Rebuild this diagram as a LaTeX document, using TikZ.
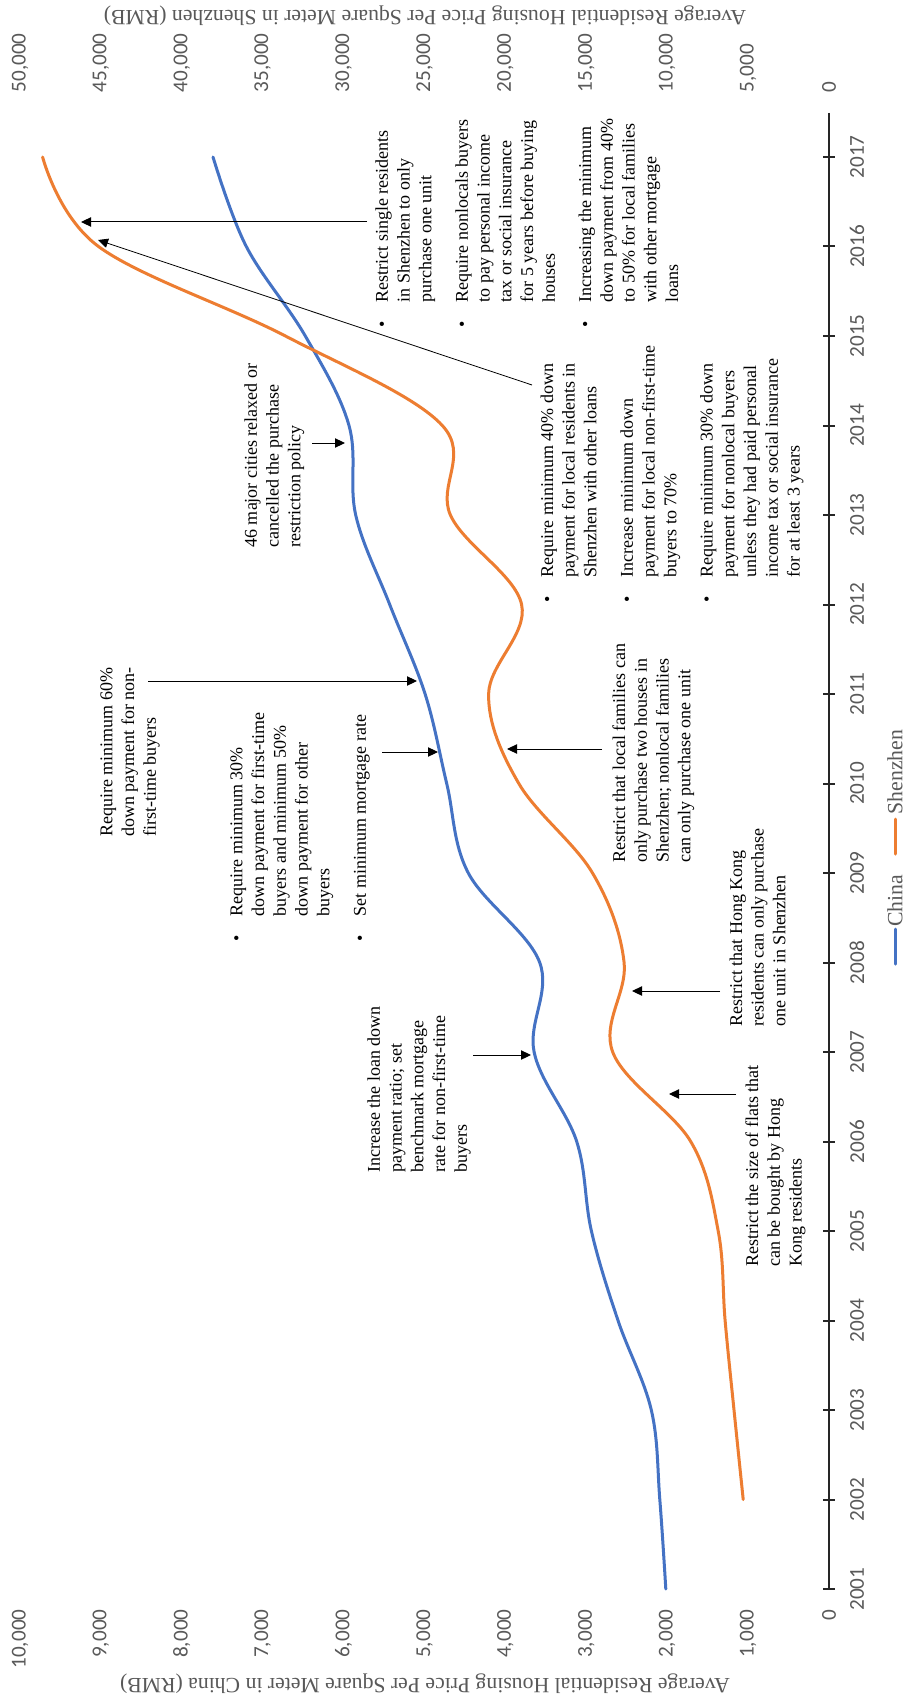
\documentclass[tikz,border=0pt]{standalone}
\usepackage{fontspec}
\setmainfont{Liberation Serif}
\newfontfamily\ticksfont{Carlito}
\usetikzlibrary{arrows.meta}

\definecolor{chinablue}{RGB}{68,114,196}
\definecolor{szorange}{RGB}{237,125,49}
\definecolor{lblgray}{RGB}{89,89,89}
\definecolor{axisdark}{RGB}{38,38,38}

\newcommand{\bul}{\makebox[19pt][l]{\textbullet}}
\newcommand{\ind}{\makebox[19pt]{}}

\tikzset{every picture/.style={line width=0.75pt}}
\tikzset{
  note/.style={rotate=90, anchor=north west, inner sep=0pt, align=left, font=\fontsize{13.5}{16.3}\selectfont},
  pointer/.style={draw=black, line width=0.75pt, -{Triangle[length=7.5pt,width=7pt]}},
  seriesline/.style={line width=2.25pt, line cap=round, line join=round},
  axisline/.style={draw=axisdark, line width=1.5pt},
  yearlbl/.style={rotate=90, inner sep=0pt, text=lblgray, font=\ticksfont\fontsize{15.9}{18}\selectfont},
  vallbl/.style={rotate=90, inner sep=0pt, text=lblgray, font=\ticksfont\fontsize{15.9}{18}\selectfont},
  ttl/.style={rotate=180, inner sep=0pt, text=lblgray, font=\fontsize{16.3}{19}\selectfont},
  legendlbl/.style={rotate=90, inner sep=0pt, text=lblgray, font=\fontsize{16.3}{19}\selectfont}
}

\begin{document}
\begin{tikzpicture}[x=0.75pt,y=0.75pt,yscale=-1,xscale=1]
\path[use as bounding box, fill=white] (0,0) rectangle (906,1701);

%Axis titles
\node[ttl] (ttlsz) at (425,16) {Average Residential Housing Price Per Square Meter in Shenzhen (RMB)};
\node[ttl] (ttlcn) at (425,1684) {Average Residential Housing Price Per Square Meter in China (RMB)};

%Shenzhen axis labels (top)
\node[vallbl, anchor=west] (sz0) at (829,93) {0};
\node[vallbl, anchor=west] (sz5) at (748.1,93) {5,000};
\node[vallbl, anchor=west] (sz10) at (667.2,93) {10,000};
\node[vallbl, anchor=west] (sz15) at (586.3,93) {15,000};
\node[vallbl, anchor=west] (sz20) at (505.4,93) {20,000};
\node[vallbl, anchor=west] (sz25) at (424.5,93) {25,000};
\node[vallbl, anchor=west] (sz30) at (343.6,93) {30,000};
\node[vallbl, anchor=west] (sz35) at (262.7,93) {35,000};
\node[vallbl, anchor=west] (sz40) at (181.8,93) {40,000};
\node[vallbl, anchor=west] (sz45) at (100.9,93) {45,000};
\node[vallbl, anchor=west] (sz50) at (20,93) {50,000};

%China axis labels (bottom)
\node[vallbl, anchor=east] (cn0) at (829,1609) {0};
\node[vallbl, anchor=east] (cn1) at (748.1,1609) {1,000};
\node[vallbl, anchor=east] (cn2) at (667.2,1609) {2,000};
\node[vallbl, anchor=east] (cn3) at (586.3,1609) {3,000};
\node[vallbl, anchor=east] (cn4) at (505.4,1609) {4,000};
\node[vallbl, anchor=east] (cn5) at (424.5,1609) {5,000};
\node[vallbl, anchor=east] (cn6) at (343.6,1609) {6,000};
\node[vallbl, anchor=east] (cn7) at (262.7,1609) {7,000};
\node[vallbl, anchor=east] (cn8) at (181.8,1609) {8,000};
\node[vallbl, anchor=east] (cn9) at (100.9,1609) {9,000};
\node[vallbl, anchor=east] (cn10) at (20,1609) {10,000};

%Year axis
\draw[axisline] (829,113) -- (829,1589) ;
\draw[axisline] (823,1589) -- (835,1589) ;
\draw[axisline] (823,1499.5) -- (835,1499.5) ;
\draw[axisline] (823,1410) -- (835,1410) ;
\draw[axisline] (823,1320.5) -- (835,1320.5) ;
\draw[axisline] (823,1231) -- (835,1231) ;
\draw[axisline] (823,1141.5) -- (835,1141.5) ;
\draw[axisline] (823,1052) -- (835,1052) ;
\draw[axisline] (823,962.5) -- (835,962.5) ;
\draw[axisline] (823,873) -- (835,873) ;
\draw[axisline] (823,783.5) -- (835,783.5) ;
\draw[axisline] (823,694) -- (835,694) ;
\draw[axisline] (823,604.5) -- (835,604.5) ;
\draw[axisline] (823,515) -- (835,515) ;
\draw[axisline] (823,425.5) -- (835,425.5) ;
\draw[axisline] (823,336) -- (835,336) ;
\draw[axisline] (823,246.5) -- (835,246.5) ;
\draw[axisline] (823,157) -- (835,157) ;

%Year labels
\node[yearlbl] (y01) at (857,1589) {2001};
\node[yearlbl] (y02) at (857,1499.5) {2002};
\node[yearlbl] (y03) at (857,1410) {2003};
\node[yearlbl] (y04) at (857,1320.5) {2004};
\node[yearlbl] (y05) at (857,1231) {2005};
\node[yearlbl] (y06) at (857,1141.5) {2006};
\node[yearlbl] (y07) at (857,1052) {2007};
\node[yearlbl] (y08) at (857,962.5) {2008};
\node[yearlbl] (y09) at (857,873) {2009};
\node[yearlbl] (y10) at (857,783.5) {2010};
\node[yearlbl] (y11) at (857,694) {2011};
\node[yearlbl] (y12) at (857,604.5) {2012};
\node[yearlbl] (y13) at (857,515) {2013};
\node[yearlbl] (y14) at (857,425.5) {2014};
\node[yearlbl] (y15) at (857,336) {2015};
\node[yearlbl] (y16) at (857,246.5) {2016};
\node[yearlbl] (y17) at (857,157) {2017};

%Series: China
\draw[seriesline, chinablue] plot[smooth, tension=0.6] coordinates {(665.8,1589) (659.8,1499.5) (651.3,1410) (618.0,1320.5) (591.4,1231) (576.7,1141.5) (534.1,1052) (539.7,962.5) (468.3,873) (446.7,783.5) (425.1,694) (389.7,604.5) (355.7,515) (349.0,425.5) (305.3,336) (246.3,246.5) (213.0,157)};
%Series: Shenzhen
\draw[seriesline, szorange] plot[smooth, tension=0.6] coordinates {(743.2,1499.5) (734.0,1410) (725.1,1320.5) (718.2,1231) (690.7,1141.5) (612.7,1052) (624.1,962.5) (592.5,873) (518.8,783.5) (488.6,694) (521.6,604.5) (450.4,515) (442.3,425.5) (285.4,336) (98.5,246.5) (42.6,157)};

%Legend
\draw[seriesline, chinablue] (895,929) -- (895,964) ;
\node[legendlbl] (lgcn) at (895,901) {China};
\draw[seriesline, szorange] (895,819) -- (895,854) ;
\node[legendlbl] (lgsz) at (895,772) {Shenzhen};

%Notes
\node[note] (a60) at (100,837) {Require minimum 60\%\\down payment for non-\\first-time buyers};
\node[note] (a30) at (230,942) {\bul Require minimum 30\%\\\ind down payment for first-time\\\ind buyers and minimum 50\%\\\ind down payment for other\\\ind buyers\\[11pt]\bul Set minimum mortgage rate};
\node[note] (a46) at (244,548) {46 major cities relaxed or\\cancelled the purchase\\restriction policy};
\node[note] (a16) at (375,328) {\bul Restrict single residents\\\ind in Shenzhen to only\\\ind purchase one unit\\[11pt]\bul Require nonlocals buyers\\\ind to pay personal income\\\ind tax or social insurance\\\ind for 5 years before buying\\\ind houses\\[11pt]\bul Increasing the minimum\\\ind down payment from 40\%\\\ind to 50\% for local families\\\ind with other mortgage\\\ind loans};
\node[note] (a40) at (540,603) {\bul Require minimum 40\% down\\\ind payment for local residents in\\\ind Shenzhen with other loans\\[11pt]\bul Increase minimum down\\\ind payment for local non-first-time\\\ind buyers to 70\%\\[11pt]\bul Require minimum 30\% down\\\ind payment for nonlocal buyers\\\ind unless they had paid personal\\\ind income tax or social insurance\\\ind for at least 3 years};
\node[note] (afam) at (612,863) {Restrict that local families can\\only purchase two houses in\\Shenzhen; nonlocal families\\can only purchase one unit};
\node[note] (aloan) at (367,1173) {Increase the loan down\\payment ratio; set\\benchmark mortgage\\rate for non-first-time\\buyers};
\node[note] (ahk) at (729,1027) {Restrict that Hong Kong\\residents can only purchase\\one unit in Shenzhen};
\node[note] (aflat) at (745,1267) {Restrict the size of flats that\\can be bought by Hong\\Kong residents};

%Arrow ends
\coordinate (s60) at (148,681);   \coordinate (e60) at (417,681);
\coordinate (srate) at (382,752); \coordinate (erate) at (438,752);
\coordinate (s46) at (312,443);   \coordinate (e46) at (345,443);
\coordinate (s16) at (367,222);   \coordinate (e16) at (81,222);
\coordinate (s40) at (532,385);   \coordinate (e40) at (98,240);
\coordinate (sfam) at (602,749);  \coordinate (efam) at (507,749);
\coordinate (sloan) at (473,1055); \coordinate (eloan) at (531,1055);
\coordinate (shk) at (720,991);   \coordinate (ehk) at (632,991);
\coordinate (sflat) at (736,1094); \coordinate (eflat) at (669,1094);

%Arrows
\draw[pointer] (s60) -- (e60) ;
\draw[pointer] (srate) -- (erate) ;
\draw[pointer] (s46) -- (e46) ;
\draw[pointer] (s16) -- (e16) ;
\draw[pointer, line width=0.6pt] (s40) -- (e40) ;
\draw[pointer] (sfam) -- (efam) ;
\draw[pointer] (sloan) -- (eloan) ;
\draw[pointer] (shk) -- (ehk) ;
\draw[pointer] (sflat) -- (eflat) ;

\end{tikzpicture}
\end{document}
